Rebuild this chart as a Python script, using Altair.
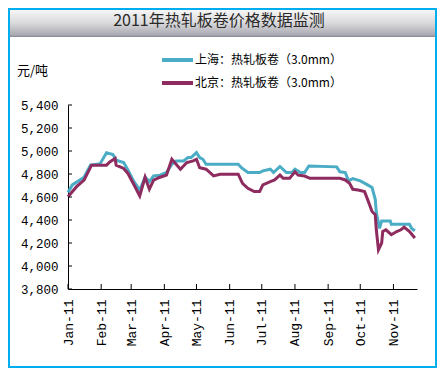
import altair as alt
import pandas as pd

# ---------------- data ----------------
sh_name = "上海：热轧板卷（3.0mm）"
bj_name = "北京：热轧板卷（3.0mm）"

sh_dates = ["2011-01-01","2011-01-05","2011-01-11","2011-01-16","2011-01-22","2011-01-31",
            "2011-02-06","2011-02-12","2011-02-15","2011-02-22","2011-02-26",
            "2011-03-03","2011-03-09","2011-03-14","2011-03-18","2011-03-22","2011-03-28",
            "2011-04-03","2011-04-08","2011-04-12","2011-04-19","2011-04-23","2011-04-26",
            "2011-05-01","2011-05-04","2011-05-07","2011-05-10",
            "2011-06-09","2011-06-12","2011-06-18","2011-06-29",
            "2011-07-02","2011-07-09","2011-07-12","2011-07-18","2011-07-24","2011-07-29",
            "2011-08-01","2011-08-06","2011-08-10","2011-08-14",
            "2011-09-09","2011-09-12","2011-09-17","2011-09-20","2011-09-24",
            "2011-10-01","2011-10-07","2011-10-12","2011-10-15","2011-10-16","2011-10-19",
            "2011-10-21","2011-10-29","2011-10-30",
            "2011-11-16","2011-11-18","2011-11-21"]
sh_vals = [4640,4705,4742,4772,4877,4890,
           4985,4970,4920,4900,4836,
           4743,4660,4772,4734,4783,4790,
           4813,4885,4914,4914,4943,4943,
           4986,4943,4928,4885,
           4885,4855,4813,4813,
           4827,4842,4813,4865,4813,4813,
           4842,4813,4813,4870,
           4862,4819,4813,4740,4760,
           4740,4710,4682,4580,4465,4327,
           4392,4392,4363,
           4363,4327,4306]

bj_dates = ["2011-01-01","2011-01-09","2011-01-16","2011-01-23",
            "2011-02-06","2011-02-09","2011-02-14","2011-02-15","2011-02-22","2011-02-26",
            "2011-03-03","2011-03-09","2011-03-14","2011-03-18","2011-03-22","2011-03-28",
            "2011-04-03","2011-04-08","2011-04-16","2011-04-22","2011-04-28",
            "2011-05-01","2011-05-04","2011-05-10","2011-05-17","2011-05-23",
            "2011-06-09","2011-06-13","2011-06-18","2011-06-24","2011-06-29",
            "2011-07-02","2011-07-09","2011-07-13","2011-07-18","2011-07-21","2011-07-27",
            "2011-08-01","2011-08-04","2011-08-10","2011-08-15",
            "2011-09-12","2011-09-17","2011-09-21","2011-09-24","2011-09-29",
            "2011-10-05","2011-10-08","2011-10-12","2011-10-15","2011-10-16","2011-10-18",
            "2011-10-21","2011-10-22","2011-10-25","2011-10-30",
            "2011-11-04","2011-11-08","2011-11-11","2011-11-16","2011-11-21"]
bj_vals = [4603,4690,4747,4877,
           4877,4905,4935,4877,4848,4805,
           4718,4610,4772,4668,4747,4772,
           4790,4928,4842,4900,4914,
           4928,4855,4842,4784,4798,
           4798,4718,4676,4647,4647,
           4705,4733,4748,4790,4762,4762,
           4820,4790,4782,4762,
           4762,4748,4719,4667,4661,
           4647,4575,4474,4445,4315,4141,
           4200,4300,4315,4272,
           4300,4315,4338,4300,4243]

month_ticks = [1,2,3,4,5,6,7,8,9,10,11]
y_ticks = [3800,4000,4200,4400,4600,4800,5000,5200,5400]

title_text = "2011年热轧板卷价格数据监测"
unit_text = "元/吨"

sh_color = "#4bacc6"
bj_color = "#8e2b5f"

# ---------------- frames ----------------
sh_df = pd.DataFrame({"date": sh_dates, "price": sh_vals, "city": sh_name})
bj_df = pd.DataFrame({"date": bj_dates, "price": bj_vals, "city": bj_name})
mt_df = pd.DataFrame({"date": [f"2011-{m:02d}-01" for m in month_ticks]})
yt_df = pd.DataFrame({"price": y_ticks})
one = pd.DataFrame({"a": [0]})

W, H = 349, 184
PL, PT, PR, PB = 60, 97, 20, 79

x_scale = alt.Scale(type="utc",
                    domain=[alt.DateTime(year=2011, month=1, date=1, utc=True),
                            alt.DateTime(year=2011, month=11, date=23, utc=True)])
y_scale = alt.Scale(domain=[3800, 5400], nice=False, zero=False)

x_axis = alt.Axis(values=[alt.DateTime(year=2011, month=m, date=1, utc=True) for m in month_ticks],
                  format="%b-%y", labelAngle=270, labelFont="Liberation Mono",
                  labelFontSize=13, labelColor="black", labelPadding=10,
                  ticks=False, grid=False, domainColor="black",
                  domainWidth=1, title=None, labelOverlap=False)
y_axis = alt.Axis(values=y_ticks, labelExpr="format(datum.value, ',')",
                  labelFont="Liberation Mono",
                  labelFontSize=12.5, labelColor="black", labelPadding=10,
                  ticks=False, grid=False, domainColor="black",
                  domainWidth=1, title=None)

X = alt.X("date:T", scale=x_scale, axis=x_axis)
Y = alt.Y("price:Q", scale=y_scale, axis=y_axis)

gradient = alt.Gradient(gradient="linear", x1=0, y1=0, x2=0, y2=1,
                        stops=[alt.GradientStop(offset=0, color="#f6f6f6"),
                               alt.GradientStop(offset=0.45, color="#dcdcde"),
                               alt.GradientStop(offset=0.93, color="#a9a9b2"),
                               alt.GradientStop(offset=1, color="#85858f")])

banner = alt.Chart(one).mark_rect(fill=gradient).encode(
    x=alt.value(-PL + 2), x2=alt.value(W + PR - 2),
    y=alt.value(-PT + 2), y2=alt.value(-68))

border = alt.Chart(one).mark_rect(fill=None, stroke="#00aeef", strokeWidth=2).encode(
    x=alt.value(-PL + 1), x2=alt.value(W + PR - 1),
    y=alt.value(-PT + 1), y2=alt.value(H + PB - 1))

title = alt.Chart(one).mark_text(text=title_text, font="Noto Sans CJK SC", fontSize=16,
                                 color="#2a2a2a", align="center", baseline="middle").encode(
    x=alt.value(151), y=alt.value(-84))

unit = alt.Chart(one).mark_text(text=unit_text, font="Noto Sans CJK SC", fontSize=13,
                                color="black", align="left", baseline="middle").encode(
    x=alt.value(-51), y=alt.value(-34))

leg_line_sh = alt.Chart(one).mark_rule(color=sh_color, strokeWidth=4).encode(
    x=alt.value(94), x2=alt.value(125), y=alt.value(-45))
leg_line_bj = alt.Chart(one).mark_rule(color=bj_color, strokeWidth=4).encode(
    x=alt.value(94), x2=alt.value(125), y=alt.value(-22))
leg_txt_sh = alt.Chart(one).mark_text(text=sh_name, font="Noto Sans CJK SC", fontSize=12,
                                      color="black", align="left", baseline="middle").encode(
    x=alt.value(127), y=alt.value(-45))
leg_txt_bj = alt.Chart(one).mark_text(text=bj_name, font="Noto Sans CJK SC", fontSize=12,
                                      color="black", align="left", baseline="middle").encode(
    x=alt.value(127), y=alt.value(-22))

sh_line = alt.Chart(sh_df).mark_line(strokeWidth=3, color=sh_color).encode(x=X, y=Y)
bj_line = alt.Chart(bj_df).mark_line(strokeWidth=3, color=bj_color).encode(x=X, y=Y)

ytick = alt.Chart(yt_df).mark_rule(color="black", strokeWidth=1).encode(
    y=Y, x=alt.value(0), x2=alt.value(4))
xtick = alt.Chart(mt_df).mark_rule(color="black", strokeWidth=1).encode(
    x=X, y=alt.value(H - 5), y2=alt.value(H))

chart = alt.layer(
    sh_line, bj_line, ytick, xtick,
    banner, border, title, unit,
    leg_line_sh, leg_line_bj, leg_txt_sh, leg_txt_bj,
).properties(
    width=W, height=H, autosize="none",
    padding={"left": PL, "top": PT, "right": PR, "bottom": PB},
    background="white"
).configure_view(stroke=None)

chart.save("out.html", embed_options={"renderer": "svg", "actions": False})
